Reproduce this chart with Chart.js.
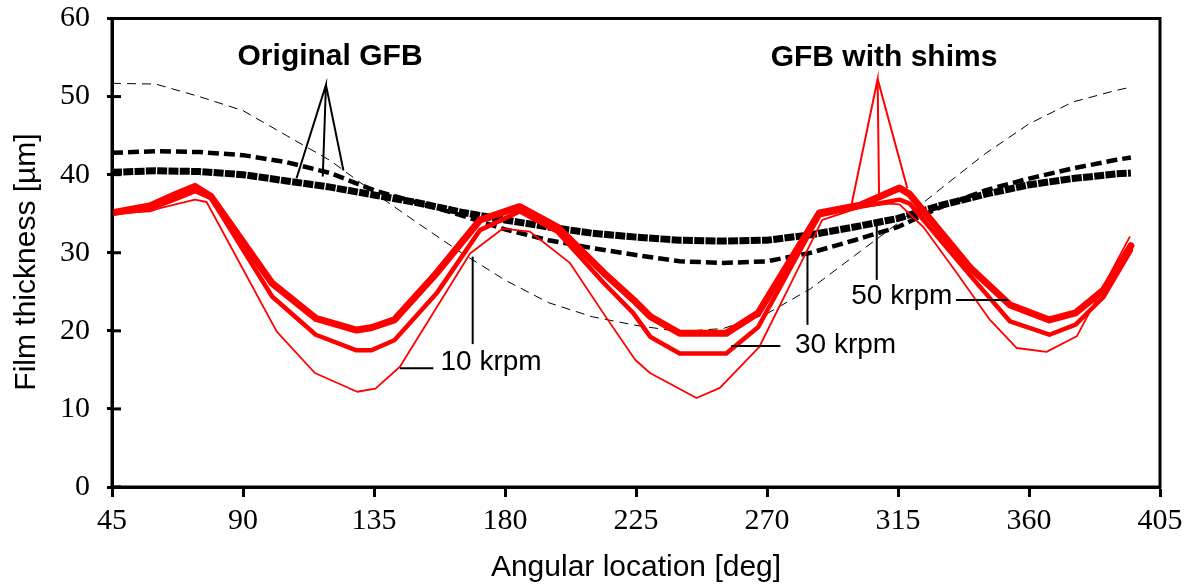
<!DOCTYPE html>
<html><head><meta charset="utf-8">
<script src="https://cdn.jsdelivr.net/npm/chart.js@4.4.0/dist/chart.umd.min.js"></script>
<style>html,body{margin:0;padding:0;background:#fff;}</style>
</head><body>
<canvas id="c" width="1190" height="586"></canvas>
<script>
// ---------- data ----------
const xTickValues = [45, 90, 135, 180, 225, 270, 315, 360, 405];
const yTickValues = [0, 10, 20, 30, 40, 50, 60];
const xTitle = 'Angular location [deg]';
const yTitle = 'Film thickness [µm]';

// Original GFB (black dashed)
const origAngles = [45,60,75,90,105,120,135,150,165,180,195,210,225,240,255,270,285,300,315,330,345,360,375,390,395];
const orig10k = [51.7,51.6,50.0,48.2,45.0,41.8,37.7,33.8,30.0,26.5,23.6,21.8,20.7,19.9,20.3,22.2,25.4,29.6,33.8,38.3,42.7,46.5,49.3,50.8,51.2];
const orig30k = [42.8,43.0,42.9,42.5,41.6,40.2,38.0,36.4,34.8,33.0,31.6,30.6,29.7,28.9,28.7,28.9,30.0,31.6,33.3,35.9,38.0,39.5,40.8,41.9,42.2];
const orig50k = [40.3,40.5,40.4,40.0,39.2,38.4,37.4,36.4,35.2,34.2,33.3,32.5,32.0,31.6,31.5,31.6,32.3,33.3,34.4,36.1,37.5,38.7,39.5,40.1,40.2];

// GFB with shims (red)
const shim50kAngles = [45,58,67,73.5,79,100,115,129,134,142,156.5,171.4,185,198,214,224,230,240,256,267,288,302,315.5,319,340,353.5,367,376,385.5,395];
const shim50k = [35.1,36.0,37.5,38.5,37.2,26.1,21.6,20.1,20.4,21.4,27.4,34.2,35.9,33.3,27.4,24.0,21.8,19.7,19.7,22.3,35.1,36.1,38.3,37.5,28.0,23.3,21.4,22.3,25.2,30.9];
const shim30kAngles = [45,58,67,73.5,79,100,115,129,134,142,156.5,171.4,185,198,214,224,230,240,256,267,288,302,315.5,319,340,353.5,367,376,385.5,395];
const shim30k = [35.0,35.6,36.9,37.9,37.0,24.4,19.5,17.5,17.5,18.8,24.8,32.9,35.3,32.7,26.1,22.3,19.2,17.1,17.1,20.5,34.8,35.9,36.8,36.3,27.0,21.2,19.5,20.8,24.3,30.3];
const shim10kAngles = [45,58,61.5,73.5,77.5,101.6,114.7,129.2,135.5,143.9,156.5,168,179.3,188.6,202.3,213.7,224.7,229.8,245.8,253.8,267.3,281,289,302,312,315.5,323.7,335.2,346.6,355.8,366,376.4,394.7];
const shim10k = [35.0,35.3,35.7,36.8,36.5,19.9,14.6,12.2,12.6,15.4,23.0,29.9,33.1,32.7,28.7,22.3,16.3,14.6,11.4,12.7,17.9,28.2,34.2,35.8,36.3,36.2,33.3,27.4,21.4,17.8,17.3,19.3,32.1];

// annotation texts and leader anchor points (data coordinates)
const groupLabels = [
  {text:'Original GFB', x:119.9, y:55.1},
  {text:'GFB with shims', x:310.2, y:55.0}
];
const speedLabels = [
  {text:'10 krpm', x:175.2, y:16.0},
  {text:'30 krpm', x:297.0, y:18.2},
  {text:'50 krpm', x:316.3, y:24.4}
];
const leaders = [
  {color:'#000', pts:[[108.4,39.55],[118.5,51.5],[117.4,39.76]]},
  {color:'#000', pts:[[118.5,51.5],[124.5,40.53]]},
  {color:'#ff0000', pts:[[299.1,36.26],[308.0,52.24],[308.5,37.19]]},
  {color:'#ff0000', pts:[[308.0,52.24],[318.2,38.27]]},
  {color:'#000', pts:[[168.9,29.5],[168.9,18.3]]},
  {color:'#000', pts:[[143.9,15.2],[155.4,15.2]]},
  {color:'#000', pts:[[283.9,29.94],[283.9,20.76]]},
  {color:'#000', pts:[[257.7,18.07],[274.6,18.07]]},
  {color:'#000', pts:[[307.7,33.44],[307.7,26.52]]},
  {color:'#000', pts:[[334.9,23.96],[352.9,23.96]]}
];

const toXY = (xs, ys) => xs.map((v, i) => ({x: v, y: ys[i]}));

const base = {fill:false, pointRadius:0, tension:0, borderJoinStyle:'round'};
const datasets = [
  Object.assign({}, base, {label:'Shims 50 krpm', data:toXY(shim50kAngles, shim50k), borderColor:'#ff0000', borderWidth:7, borderCapStyle:'round'}),
  Object.assign({}, base, {label:'Shims 30 krpm', data:toXY(shim30kAngles, shim30k), borderColor:'#ff0000', borderWidth:4.5, borderCapStyle:'round'}),
  Object.assign({}, base, {label:'Shims 10 krpm', data:toXY(shim10kAngles, shim10k), borderColor:'#ff0000', borderWidth:1.8}),
  Object.assign({}, base, {label:'Original 50 krpm', data:toXY(origAngles, orig50k), borderColor:'#000', borderWidth:7, borderDash:[10,1.3], borderJoinStyle:'miter'}),
  Object.assign({}, base, {label:'Original 30 krpm', data:toXY(origAngles, orig30k), borderColor:'#000', borderWidth:4.5, borderDash:[11,5], borderJoinStyle:'miter'}),
  Object.assign({}, base, {label:'Original 10 krpm', data:toXY(origAngles, orig10k), borderColor:'#000', borderWidth:1, borderDash:[9,6]})
];

const annotPlugin = {
  id:'annot',
  afterDatasetsDraw(chart){
    const {ctx, chartArea:a, scales:{x, y}} = chart;
    ctx.save();
    // inward y tick marks
    ctx.strokeStyle = '#000'; ctx.lineWidth = 3; ctx.lineCap = 'butt';
    yTickValues.forEach(v => {
      const py = y.getPixelForValue(v);
      ctx.beginPath(); ctx.moveTo(a.left, py); ctx.lineTo(a.left + 9, py); ctx.stroke();
    });
    // frame
    ctx.lineWidth = 3;
    ctx.strokeRect(a.left, a.top, a.right - a.left, a.bottom - a.top);
    // leader lines
    ctx.lineWidth = 2;
    leaders.forEach(l => {
      ctx.strokeStyle = l.color;
      ctx.beginPath();
      l.pts.forEach((p, i) => {
        const px = x.getPixelForValue(p[0]), py = y.getPixelForValue(p[1]);
        if (i) ctx.lineTo(px, py); else ctx.moveTo(px, py);
      });
      ctx.stroke();
    });
    // texts
    ctx.fillStyle = '#000';
    ctx.textAlign = 'center'; ctx.textBaseline = 'middle';
    ctx.font = 'bold 30px "Liberation Sans", Arial, sans-serif';
    groupLabels.forEach(t => ctx.fillText(t.text, x.getPixelForValue(t.x), y.getPixelForValue(t.y)));
    ctx.font = '28px "Liberation Sans", Arial, sans-serif';
    speedLabels.forEach(t => ctx.fillText(t.text, x.getPixelForValue(t.x), y.getPixelForValue(t.y)));
    // y axis title
    ctx.save();
    ctx.translate(27, 262);
    ctx.rotate(-Math.PI / 2);
    ctx.font = '30px "Liberation Sans", Arial, sans-serif';
    ctx.fillText(yTitle, 0, 0);
    ctx.restore();
    ctx.restore();
  }
};

new Chart(document.getElementById('c'), {
  type:'line',
  data:{datasets},
  plugins:[annotPlugin],
  options:{
    responsive:false, animation:false, devicePixelRatio:1,
    layout:{padding:{top:18.5, right:30, left:0, bottom:0}},
    plugins:{legend:{display:false}, tooltip:{enabled:false}},
    scales:{
      x:{
        type:'linear', min:45, max:405,
        afterBuildTicks: s => { s.ticks = xTickValues.map(v => ({value:v})); },
        afterFit: s => { s.height = 99; s.paddingLeft = 0; s.paddingRight = 0; },
        grid:{drawOnChartArea:false, drawTicks:true, tickLength:10, tickWidth:3, tickColor:'#000'},
        border:{display:true, color:'#000', width:3},
        ticks:{color:'#000', padding:6, maxRotation:0, font:{family:'"Liberation Serif", "Times New Roman", serif', size:30}},
        title:{display:true, text:xTitle, color:'#000', padding:{top:0, bottom:0}, font:{family:'"Liberation Sans", Arial, sans-serif', size:30}}
      },
      y:{
        type:'linear', min:0, max:60,
        afterBuildTicks: s => { s.ticks = yTickValues.map(v => ({value:v})); },
        afterFit: s => { s.width = 112; s.paddingTop = 0; s.paddingBottom = 0; },
        grid:{drawOnChartArea:false, drawTicks:true, tickLength:5, tickWidth:3, tickColor:'#000'},
        border:{display:true, color:'#000', width:3},
        ticks:{color:'#000', padding:17, font:{family:'"Liberation Serif", "Times New Roman", serif', size:30}}
      }
    }
  }
});
</script>
</body></html>
